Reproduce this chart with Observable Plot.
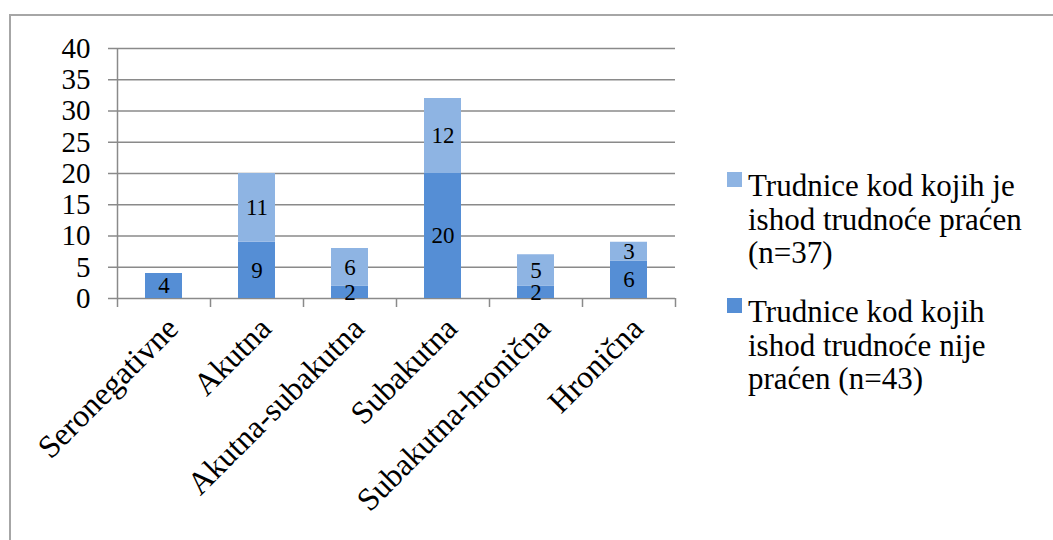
<!DOCTYPE html>
<html><head><meta charset="utf-8">
<style>
body{margin:0;background:#fff;}
#wrap{position:relative;width:1053px;height:540px;overflow:hidden;color:#000;}
#border{position:absolute;left:9px;top:14px;width:1100px;height:600px;border-left:2px solid #a6a6a6;border-top:2px solid #a6a6a6;}
#chart{position:absolute;left:0;top:0;}
.item{position:absolute;left:727px;display:flex;align-items:flex-start;}
.sw{width:15px;height:15px;margin-top:3px;margin-right:6px;flex:none;}
.txt{font-size:31px;line-height:33.5px;white-space:nowrap;}
</style>
<script src="https://cdn.jsdelivr.net/npm/d3@7"></script>
<script src="https://cdn.jsdelivr.net/npm/@observablehq/plot@0.6"></script>
</head><body>
<div id="wrap" style="font-family:'Liberation Serif'"><div id="border"></div><div id="chart"></div><div id="legend"></div></div>
<script>
const categories = ["Seronegativne","Akutna","Akutna-subakutna","Subakutna","Subakutna-hronična","Hronična"];
const notFollowed = [4, 9, 2, 20, 2, 6];
const followed = [0, 11, 6, 12, 5, 3];
const seriesNames = [" Trudnice kod kojih ishod trudnoće nije praćen (n=43)", "Trudnice kod kojih je ishod trudnoće praćen (n=37)"];
const seriesColors = ["#558ED5", "#8EB4E3"];
const legendLines = [["Trudnice kod kojih je", "ishod trudnoće praćen", "(n=37)"], [" Trudnice kod kojih", "ishod trudnoće nije", "praćen (n=43)"]];
const yTicks = [0, 5, 10, 15, 20, 25, 30, 35, 40];

const rows = [];
categories.forEach((c, i) => {
  rows.push({cat: c, series: seriesNames[0], value: notFollowed[i]});
  rows.push({cat: c, series: seriesNames[1], value: followed[i]});
});
const shown = rows.filter(d => d.value > 0);

const W = 700, H = 540, ML = 117, MR = 25, MT = 48, MB = 242;
const step = (W - ML - MR) / categories.length;
const grid = "#8a8a8a";
const FONT = "Liberation Serif";

const chart = Plot.plot({
  width: W, height: H,
  marginLeft: ML, marginRight: MR, marginTop: MT, marginBottom: MB,
  style: {color: "#000", background: "transparent", overflow: "visible"},
  x: {type: "band", domain: categories, padding: 0, label: null},
  y: {domain: [0, 40], label: null},
  color: {domain: seriesNames, range: seriesColors},
  marks: [
    Plot.gridY({ticks: yTicks, stroke: grid, strokeOpacity: 1, strokeWidth: 1.5}),
    Plot.ruleX([categories[0]], {dx: -step / 2, stroke: grid, strokeWidth: 1.5}),
    Plot.axisX({ticks: categories, tickSize: 9, text: null, label: null, dx: -step / 2, stroke: grid, strokeWidth: 1.5}),
    Plot.axisX({ticks: [categories[categories.length - 1]], tickSize: 9, text: null, label: null, dx: step / 2, stroke: grid, strokeWidth: 1.5}),
    Plot.axisY({ticks: yTicks, tickSize: 9, tickPadding: 18, fontSize: 29, fontFamily: FONT, stroke: grid, strokeWidth: 1.5, fill: "#000", label: null}),
    Plot.axisX({tickSize: 0, tickPadding: 16, rotate: -45, textAnchor: "end", fontSize: 32, fontFamily: FONT, fill: "#000", label: null}),
    Plot.barY(shown, {x: "cat", y: "value", fill: "series", insetLeft: 28, insetRight: 28}),
    Plot.text(shown, Plot.stackY({x: "cat", y: "value", z: "series", text: d => String(d.value), fontSize: 23, fontFamily: FONT, fill: "#000"}))
  ]
});
chart.style.setProperty("font-family", "'Liberation Serif', serif", "important");
chart.querySelectorAll("g, text, tspan").forEach(t => t.style.setProperty("font-family", "'Liberation Serif', serif", "important"));
document.getElementById("chart").appendChild(chart);

const legend = document.getElementById("legend");
const tops = [169, 295];
[1, 0].forEach((si, k) => {
  const item = document.createElement("div");
  item.className = "item";
  item.style.top = tops[k] + "px";
  const sw = document.createElement("span");
  sw.className = "sw";
  sw.style.background = seriesColors[si];
  const txt = document.createElement("span");
  txt.className = "txt";
  txt.style.setProperty("font-family", "'Liberation Serif', serif", "important");
  txt.innerHTML = legendLines[k].join("<br>");
  item.appendChild(sw); item.appendChild(txt);
  legend.appendChild(item);
});
</script>
</body></html>
